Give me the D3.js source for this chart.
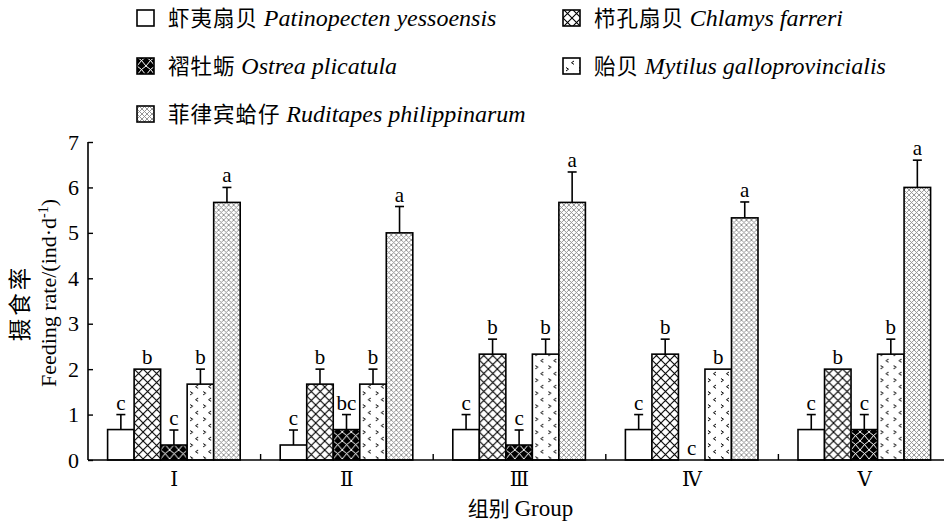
<!DOCTYPE html>
<html>
<head>
<meta charset="utf-8">
<script src="https://cdn.jsdelivr.net/npm/d3@7"></script>
<style>
  html, body { margin: 0; padding: 0; background: #fff; }
  svg { display: block; }
</style>
</head>
<body>
<svg id="chart" width="944" height="524"></svg>
<script>
// Feeding rate of five bivalve species in five groups (mean, SE, significance letter)
const groups = ["Ⅰ", "Ⅱ", "Ⅲ", "Ⅳ", "Ⅴ"];
const speciesCN = ["虾夷扇贝", "栉孔扇贝", "褶牡蛎", "贻贝", "菲律宾蛤仔"];
const speciesLatin = ["Patinopecten yessoensis", "Chlamys farreri", "Ostrea plicatula",
                      "Mytilus galloprovincialis", "Ruditapes philippinarum"];
const seriesKeys = ["pat", "chl", "ost", "myt", "rud"];

// mean values, one array per species (order follows groups)
const patMean = [0.67, 0.33, 0.67, 0.67, 0.67];
const chlMean = [2.0, 1.67, 2.33, 2.33, 2.0];
const ostMean = [0.33, 0.67, 0.33, 0.0, 0.67];
const mytMean = [1.67, 1.67, 2.33, 2.0, 2.33];
const rudMean = [5.67, 5.0, 5.67, 5.33, 6.0];

// standard errors
const patErr = [0.33, 0.33, 0.33, 0.33, 0.33];
const chlErr = [0.0, 0.33, 0.33, 0.33, 0.0];
const ostErr = [0.33, 0.33, 0.33, 0.0, 0.33];
const mytErr = [0.33, 0.33, 0.33, 0.0, 0.33];
const rudErr = [0.33, 0.58, 0.67, 0.35, 0.6];

// significance letters
const patSig = ["c", "c", "c", "c", "c"];
const chlSig = ["b", "b", "b", "b", "b"];
const ostSig = ["c", "bc", "c", "c", "c"];
const mytSig = ["b", "b", "b", "b", "b"];
const rudSig = ["a", "a", "a", "a", "a"];

const yTicks = [0, 1, 2, 3, 4, 5, 6, 7];

const means = [patMean, chlMean, ostMean, mytMean, rudMean];
const errs = [patErr, chlErr, ostErr, mytErr, rudErr];
const sigs = [patSig, chlSig, ostSig, mytSig, rudSig];

const rows = [];
groups.forEach((g, gi) => {
  seriesKeys.forEach((k, si) => {
    rows.push({ group: g, key: k, si, value: means[si][gi], err: errs[si][gi], sig: sigs[si][gi] });
  });
});

const svg = d3.select("#chart");
const serif = "'Liberation Serif', 'Times New Roman', 'DejaVu Serif', serif";
const cjk = "'Noto Sans CJK SC', sans-serif";

const margin = { left: 88, top: 142, bottom: 460, right: 951 };

const x = d3.scaleBand().domain(groups).range([margin.left, margin.right]).padding(0);
const xs = d3.scaleBand().domain(seriesKeys).range([19.6, x.bandwidth() - 20.4]).padding(0);
const y = d3.scaleLinear().domain([0, 7]).range([margin.bottom, margin.top]);

// ---- fill patterns ----
const defs = svg.append("defs");

const pChl = defs.append("pattern").attr("id", "p-chl").attr("patternUnits", "userSpaceOnUse")
  .attr("width", 9).attr("height", 9);
pChl.append("rect").attr("width", 9).attr("height", 9).attr("fill", "#fff");
pChl.append("path").attr("d", "M0,0L9,9M9,0L0,9").attr("stroke", "#000").attr("stroke-width", 1.1).attr("fill", "none");

const pOst = defs.append("pattern").attr("id", "p-ost").attr("patternUnits", "userSpaceOnUse")
  .attr("width", 9).attr("height", 9);
pOst.append("rect").attr("width", 9).attr("height", 9).attr("fill", "#000");
pOst.append("path").attr("d", "M0,0Q4.5,2.5 9,9M9,0Q4.5,2.5 0,9").attr("stroke", "#fff").attr("stroke-width", 1).attr("fill", "none");

const pMyt = defs.append("pattern").attr("id", "p-myt").attr("patternUnits", "userSpaceOnUse")
  .attr("width", 13).attr("height", 13);
pMyt.append("rect").attr("width", 13).attr("height", 13).attr("fill", "#fff");
pMyt.append("path").attr("d", "M3,1.5L5.5,3.2L3,5M11,8L8.5,9.7L11,11.4")
  .attr("stroke", "#000").attr("stroke-width", 1).attr("fill", "none");

const pRud = defs.append("pattern").attr("id", "p-rud").attr("patternUnits", "userSpaceOnUse")
  .attr("width", 5).attr("height", 5);
pRud.append("rect").attr("width", 5).attr("height", 5).attr("fill", "#fff");
pRud.append("path").attr("d", "M0,0L5,5M5,0L0,5").attr("stroke", "#8a8a8a").attr("stroke-width", 0.9).attr("fill", "none");

const fills = { pat: "#fff", chl: "url(#p-chl)", ost: "url(#p-ost)", myt: "url(#p-myt)", rud: "url(#p-rud)" };

// ---- bars ----
const plot = svg.append("g");
const bar = plot.selectAll("g.bar").data(rows).enter().append("g").attr("class", "bar")
  .attr("transform", d => `translate(${x(d.group) + xs(d.key)},0)`);

bar.append("rect")
  .attr("x", 0)
  .attr("width", xs.bandwidth())
  .attr("y", d => y(d.value))
  .attr("height", d => y(0) - y(d.value))
  .attr("fill", d => fills[d.key])
  .attr("stroke", "#000")
  .attr("stroke-width", 1.6);

// error bars (upper half only)
const eb = bar.filter(d => d.err > 0);
eb.append("line")
  .attr("x1", xs.bandwidth() / 2).attr("x2", xs.bandwidth() / 2)
  .attr("y1", d => y(d.value)).attr("y2", d => y(d.value + d.err))
  .attr("stroke", "#000").attr("stroke-width", 1.6);
eb.append("line")
  .attr("x1", xs.bandwidth() / 2 - 4.5).attr("x2", xs.bandwidth() / 2 + 4.5)
  .attr("y1", d => y(d.value + d.err)).attr("y2", d => y(d.value + d.err))
  .attr("stroke", "#000").attr("stroke-width", 1.6);

// significance letters
bar.append("text")
  .attr("x", xs.bandwidth() / 2)
  .attr("y", d => y(d.value + d.err) - 5)
  .attr("text-anchor", "middle")
  .attr("font-family", serif)
  .attr("font-size", 21)
  .attr("fill", "#000")
  .text(d => d.sig);

// ---- axes ----
const yAxis = svg.append("g").attr("transform", `translate(${margin.left},0)`)
  .call(d3.axisLeft(y).tickValues(yTicks).tickFormat(d3.format("d")).tickSize(-5).tickPadding(9));
yAxis.select(".domain").attr("d", `M0,${margin.top}V${margin.bottom}`).attr("stroke-width", 1.6);
yAxis.selectAll(".tick line").attr("stroke-width", 1.4);
yAxis.selectAll(".tick text").attr("font-family", serif).attr("font-size", 22).attr("fill", "#000");

const xAxis = svg.append("g").attr("transform", `translate(0,${margin.bottom})`)
  .call(d3.axisBottom(x).tickSize(0).tickPadding(8));
xAxis.select(".domain").attr("d", `M${margin.left},0H${margin.right}`).attr("stroke-width", 1.6);
xAxis.selectAll(".tick text").attr("font-family", serif).attr("font-size", 20).attr("fill", "#000")
  .attr("dy", "0.9em");

// boundary ticks between groups, pointing up
svg.append("g").selectAll("line").data(groups.slice(1)).enter().append("line")
  .attr("x1", d => x(d)).attr("x2", d => x(d))
  .attr("y1", margin.bottom).attr("y2", margin.bottom - 6)
  .attr("stroke", "#000").attr("stroke-width", 1.4);

// axis titles
svg.append("text")
  .attr("x", x("Ⅲ") + x.bandwidth() / 2 + 1).attr("y", 516)
  .attr("text-anchor", "middle").attr("fill", "#000")
  .call(t => {
    t.append("tspan").attr("font-family", cjk).attr("font-size", 21).text("组别 ");
    t.append("tspan").attr("font-family", serif).attr("font-size", 23).text("Group");
  });

const yt = svg.append("g").attr("transform", "translate(0,300) rotate(-90)");
yt.append("text").attr("x", -3).attr("y", 28).attr("text-anchor", "middle")
  .attr("font-family", cjk).attr("font-size", 22.5).attr("letter-spacing", 3).attr("fill", "#000").text("摄食率");
yt.append("text").attr("x", 7).attr("y", 56).attr("text-anchor", "middle")
  .attr("font-family", serif).attr("font-size", 22).attr("fill", "#000")
  .call(t => {
    t.append("tspan").text("Feeding rate/(ind·d");
    t.append("tspan").attr("font-size", 14).attr("dy", -8).text("-1");
    t.append("tspan").attr("dy", 8).text(")");
  });

// ---- legend ----
const legendPos = [
  { x: 137, y: 18 }, { x: 563, y: 18 },
  { x: 137, y: 66 }, { x: 563, y: 66 },
  { x: 137, y: 114 }
];
const legend = svg.append("g").selectAll("g").data(seriesKeys).enter().append("g")
  .attr("transform", (d, i) => `translate(${legendPos[i].x},${legendPos[i].y})`);
legend.append("rect")
  .attr("x", 0).attr("y", -8).attr("width", 17).attr("height", 16)
  .attr("fill", d => fills[d]).attr("stroke", "#000").attr("stroke-width", 1.6);
legend.append("text")
  .attr("x", 31).attr("y", 8).attr("fill", "#000")
  .each(function (d, i) {
    const t = d3.select(this);
    t.append("tspan").attr("font-family", cjk).attr("font-size", 21.5).attr("letter-spacing", 1).text(speciesCN[i] + " ");
    t.append("tspan").attr("font-family", serif).attr("font-style", "italic").attr("font-size", 24)
      .text(speciesLatin[i]);
  });
</script>
</body>
</html>
